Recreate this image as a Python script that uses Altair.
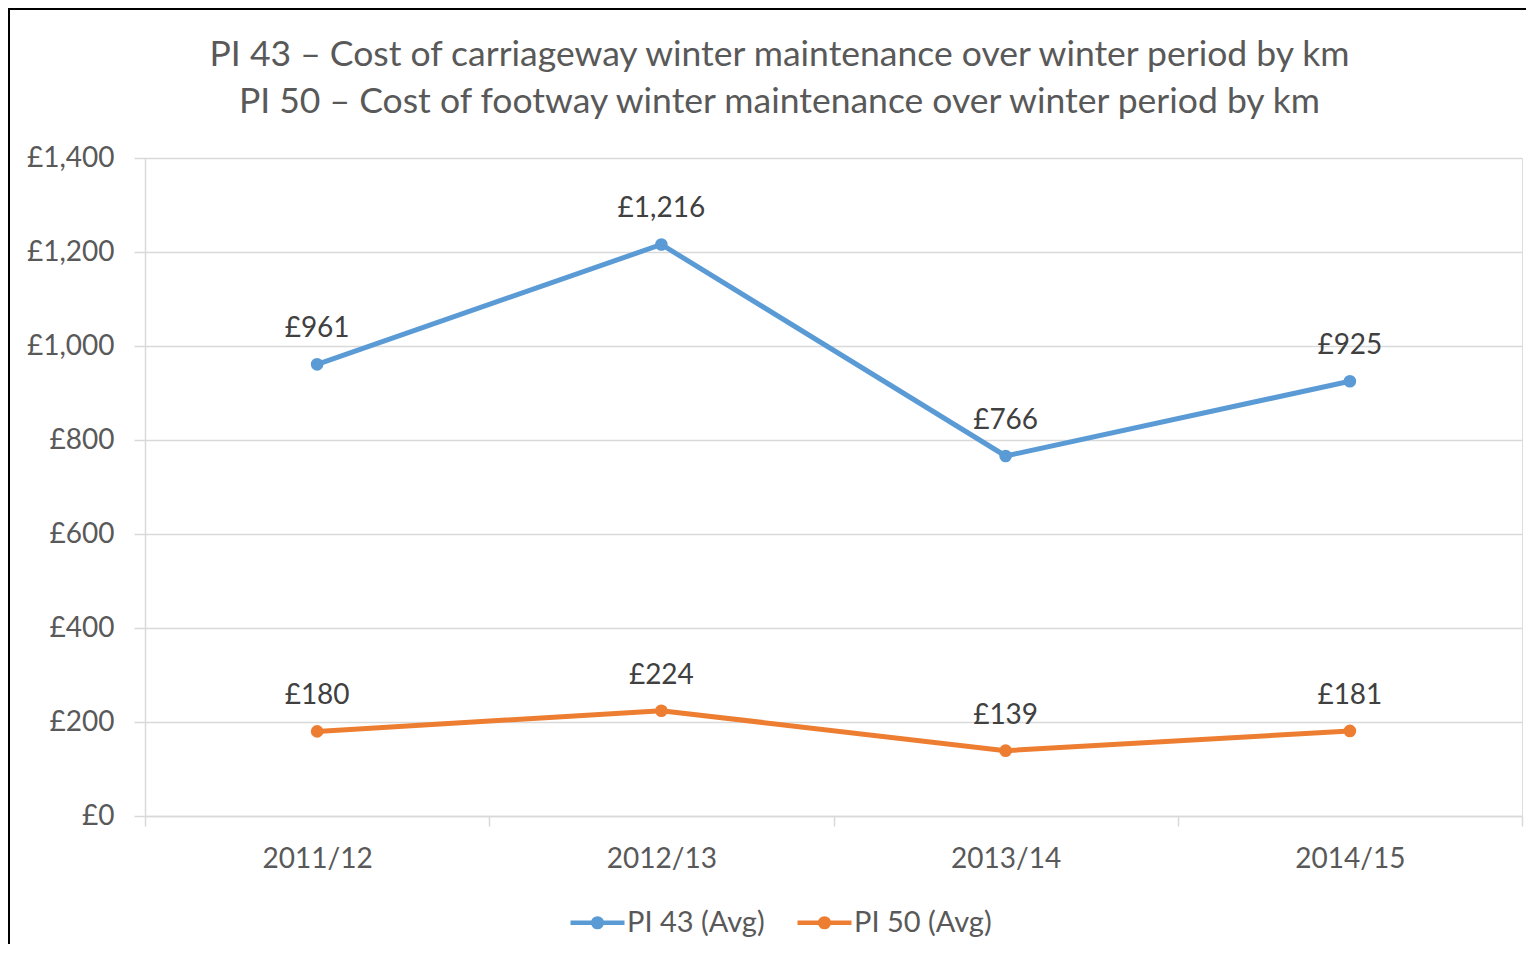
import altair as alt
import pandas as pd

years = ["2011/12", "2012/13", "2013/14", "2014/15"]
pi43 = [961, 1216, 766, 925]
pi50 = [180, 224, 139, 181]
series_names = ["PI 43 (Avg)", "PI 50 (Avg)"]
series_colors = ["#5B9BD5", "#ED7D31"]
title_line1 = "PI 43 \u2013 Cost of carriageway winter maintenance over winter period by km"
title_line2 = "PI 50 \u2013 Cost of footway winter maintenance over winter period by km"
y_ticks = [0, 200, 400, 600, 800, 1000, 1200, 1400]

rows = []
for name, vals in zip(series_names, [pi43, pi50]):
    for yr, v in zip(years, vals):
        rows.append({"year": yr, "value": v, "series": name})
df = pd.DataFrame(rows)

FONT = "Lato"
TXT = "#595959"
GRID = "#d9d9d9"

xenc = alt.X("year:N", sort=years,
             scale=alt.Scale(type="band", paddingInner=0, paddingOuter=0),
             axis=alt.Axis(title=None, labelAngle=0, tickBand="extent", grid=False,
                           domainColor=GRID, domainWidth=1.5, tickColor=GRID, tickWidth=1.5,
                           tickSize=10, labelFontSize=28, labelColor=TXT, labelPadding=19,
                           labelFont=FONT))
yenc = alt.Y("value:Q", scale=alt.Scale(domain=[0, 1400], nice=False),
             axis=alt.Axis(title=None, values=y_ticks, grid=True, gridColor=GRID, gridWidth=1.5,
                           domainColor=GRID, domainWidth=1.5, tickColor=GRID, tickWidth=1.5,
                           tickSize=11, labelFontSize=28, labelColor=TXT, labelPadding=20,
                           labelFont=FONT,
                           labelExpr="'\u00a3' + format(datum.value, ',')"))

sym = ("M-1,0L1,0"
       "M0.16,0A0.16,0.16,0,1,1,-0.16,0A0.16,0.16,0,1,1,0.16,0"
       "M0.06,0A0.06,0.06,0,1,1,-0.06,0A0.06,0.06,0,1,1,0.06,0")

color_scale = alt.Scale(domain=series_names, range=series_colors)

lines = alt.Chart(df).mark_line(strokeWidth=5).encode(
    x=xenc, y=yenc,
    color=alt.Color("series:N", scale=color_scale, sort=series_names,
                    legend=alt.Legend(title=None, orient="none", legendX=423, legendY=735,
                                      direction="horizontal", symbolType=sym, symbolSize=2916,
                                      symbolStrokeWidth=4.5, labelFontSize=29, labelColor=TXT,
                                      labelFont=FONT, labelOffset=0, columnPadding=23, padding=0)),
)
points = alt.Chart(df).mark_point(filled=True, size=160, opacity=1).encode(
    x=xenc, y=yenc,
    color=alt.Color("series:N", scale=color_scale, legend=None),
)
labels = alt.Chart(df).transform_calculate(
    lab="'\u00a3' + format(datum.value, ',')"
).mark_text(dy=-35, fontSize=28, color="#404040", font=FONT).encode(
    x=xenc, y=yenc, text="lab:N",
)

frame = pd.DataFrame({"k": [0]})
left_border = alt.Chart(frame).mark_rule(color="black", strokeWidth=2).encode(
    x=alt.value(-136), y=alt.value(-150), y2=alt.value(800))
top_border = alt.Chart(frame).mark_rule(color="black", strokeWidth=2).encode(
    x=alt.value(-137), x2=alt.value(1400), y=alt.value(-149))

t1 = pd.DataFrame({"t": [title_line1]})
t2 = pd.DataFrame({"t": [title_line2]})
title1 = alt.Chart(t1).mark_text(fontSize=35.5, color=TXT, font=FONT, baseline="middle",
                                 align="center").encode(
    text="t:N", x=alt.value(634.5), y=alt.value(-103))
title2 = alt.Chart(t2).mark_text(fontSize=35.5, color=TXT, font=FONT, baseline="middle",
                                 align="center").encode(
    text="t:N", x=alt.value(634.5), y=alt.value(-56))

chart = alt.layer(lines, points, labels, left_border, top_border, title1, title2).properties(
    width=1377, height=658,
    autosize=alt.AutoSizeParams(type="none"),
    padding={"left": 137, "top": 150, "right": 4, "bottom": 128},
).configure_view(stroke=None).configure(font=FONT)

chart.save("out.html", embed_options={"renderer": "svg", "actions": False})
